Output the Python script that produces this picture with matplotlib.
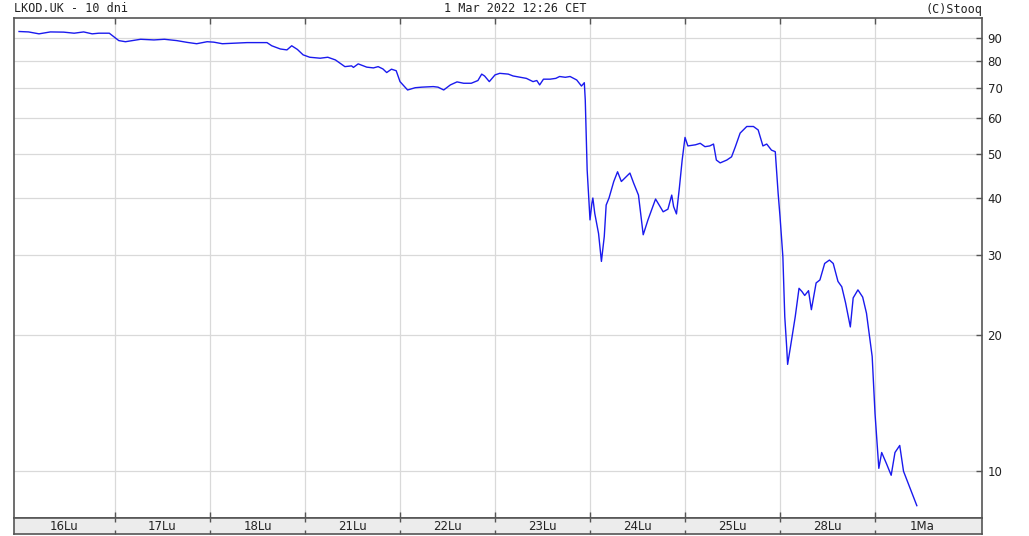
import matplotlib
matplotlib.use("Agg")
import matplotlib.pyplot as plt
import numpy as np

# ---- data (time in trading days from start of 16 Feb session, price) ----
t = [-0.01, 0.09, 0.20, 0.32, 0.46, 0.57, 0.67, 0.76, 0.83, 0.94,
     1.04, 1.11, 1.27, 1.41, 1.52, 1.65, 1.76, 1.86, 1.97, 2.04,
     2.13, 2.39, 2.60, 2.65, 2.74, 2.81, 2.86, 2.92, 2.98, 3.05,
     3.16, 3.24, 3.32, 3.42, 3.49, 3.51, 3.56, 3.65, 3.72, 3.77,
     3.82, 3.86, 3.91, 3.96, 4.00, 4.08, 4.16, 4.23, 4.35, 4.40,
     4.46, 4.53, 4.60, 4.67, 4.75, 4.82, 4.86, 4.89, 4.94, 5.00,
     5.05, 5.14, 5.19, 5.33, 5.40, 5.44, 5.47, 5.51, 5.58, 5.64,
     5.68, 5.74, 5.79, 5.86, 5.91, 5.94, 5.95, 5.96, 5.97, 5.99,
     6.00, 6.02, 6.03, 6.05, 6.09, 6.12, 6.15, 6.17, 6.20, 6.25,
     6.29, 6.33, 6.42, 6.46, 6.51, 6.56, 6.61, 6.69, 6.77, 6.82,
     6.86, 6.88, 6.91, 6.94, 6.97, 7.00, 7.03, 7.11, 7.16, 7.21,
     7.26, 7.30, 7.33, 7.37, 7.44, 7.49, 7.53, 7.58, 7.65, 7.72,
     7.77, 7.82, 7.86, 7.91, 7.95, 7.98, 8.00, 8.03, 8.05, 8.07,
     8.08, 8.11, 8.16, 8.20, 8.23, 8.26, 8.30, 8.33, 8.38, 8.42,
     8.47, 8.52, 8.56, 8.61, 8.65, 8.69, 8.74, 8.77, 8.82, 8.87,
     8.91, 8.97, 8.98, 9.00, 9.02, 9.04, 9.07, 9.12, 9.17, 9.21,
     9.26, 9.30, 9.35, 9.44]
price = [93.1, 92.9, 92.0, 92.9, 92.8, 92.3, 92.9, 92.0, 92.3, 92.3,
         88.9, 88.4, 89.5, 89.2, 89.5, 88.9, 88.1, 87.5, 88.4, 88.2,
         87.5, 88.0, 88.0, 86.6, 85.2, 84.8, 86.6, 85.0, 82.7, 81.7,
         81.3, 81.7, 80.6, 77.9, 78.2, 77.6, 79.0, 77.7, 77.4, 77.9,
         77.0, 75.6, 76.9, 76.3, 72.2, 69.2, 70.0, 70.2, 70.4, 70.2,
         69.2, 71.0, 72.1, 71.6, 71.6, 72.6, 75.0, 74.3, 72.2, 74.7,
         75.3, 75.0, 74.3, 73.4, 72.2, 72.6, 71.0, 73.1, 73.1, 73.4,
         74.1, 73.8, 74.1, 72.8, 70.6, 71.8, 65.8, 55.6, 46.1, 39.0,
         35.8, 39.0, 40.0, 37.0, 33.4, 29.0, 32.9, 38.6, 40.0, 43.5,
         45.7, 43.5, 45.4, 43.1, 40.6, 33.2, 35.8, 39.8, 37.3, 37.8,
         40.6, 38.3, 36.9, 42.0, 48.5, 54.4, 52.1, 52.4, 52.8, 51.9,
         52.1, 52.6, 48.5, 47.8, 48.5, 49.3, 51.9, 55.6, 57.5, 57.5,
         56.5, 52.1, 52.6, 51.0, 50.6, 41.0, 36.4, 29.7, 21.9, 18.8,
         17.2, 18.8, 21.9, 25.3, 24.9, 24.4, 25.0, 22.7, 26.0, 26.4,
         28.7, 29.2, 28.7, 26.2, 25.5, 23.5, 20.8, 24.1, 25.1, 24.2,
         22.3, 17.9, 16.2, 13.4, 11.7, 10.15, 11.0, 10.4, 9.8, 11.0,
         11.4, 10.0, 9.4, 8.4]
day_labels = ["16Lu", "17Lu", "18Lu", "21Lu", "22Lu", "23Lu", "24Lu", "25Lu", "28Lu", "1Ma"]
y_ticks = [10, 20, 30, 40, 50, 60, 70, 80, 90]

W, H = 1029, 536
fig = plt.figure(figsize=(W / 100, H / 100), dpi=100)
fig.patch.set_facecolor("white")

left_px, right_px, top_px, bot_px = 14, 982, 18, 518
ax = fig.add_axes([left_px / W, 1 - bot_px / H, (right_px - left_px) / W, (bot_px - top_px) / H])
ax.set_yscale("log")
xmin, xmax = -0.063, 10.126
ax.set_xlim(xmin, xmax)
ax.set_ylim(7.89, 99.7)

spine_c = "#555555"
for s in ax.spines.values():
    s.set_color(spine_c)
    s.set_linewidth(1.2)

# grid
bounds = list(range(1, len(day_labels)))
for b in bounds:
    ax.axvline(b, color="#d9d9d9", lw=0.9, zorder=0)
for v in y_ticks:
    ax.axhline(v, color="#d9d9d9", lw=0.9, zorder=0)

ax.plot(t, price, color="#1a1aee", lw=1.0, zorder=3)

ax.yaxis.tick_right()
ax.set_yticks(y_ticks)
ax.set_yticklabels([str(v) for v in y_ticks])
ax.yaxis.set_minor_locator(matplotlib.ticker.NullLocator())
ax.tick_params(axis="y", direction="in", length=4, width=1, color=spine_c,
               labelsize=8.5, labelcolor="#222222", pad=4)
ax.set_xticks(bounds)
ax.set_xticklabels([])
ax.tick_params(axis="x", direction="in", length=4, width=1, color=spine_c,
               top=True, bottom=True)

# header texts
fig.text(left_px / W, 1 - 9 / H, "LKOD.UK - 10 dni", ha="left", va="center",
         fontsize=8.5, family="DejaVu Sans Mono", color="#222222")
fig.text(515 / W, 1 - 9 / H, "1 Mar 2022 12:26 CET", ha="center", va="center",
         fontsize=8.5, family="DejaVu Sans Mono", color="#222222")
fig.text(right_px / W, 1 - 9 / H, "(C)Stooq", ha="right", va="center",
         fontsize=8.5, family="DejaVu Sans Mono", color="#222222")

# label band
band = fig.add_axes([left_px / W, 1 - 534 / H, (right_px - left_px) / W, 16 / H])
band.set_xlim(xmin, xmax)
band.set_ylim(0, 1)
band.set_facecolor("#ececec")
for s in band.spines.values():
    s.set_color(spine_c)
    s.set_linewidth(1.2)
band.set_yticks([])
band.set_xticks(bounds)
band.set_xticklabels([])
band.tick_params(axis="x", direction="in", length=3, width=1, color=spine_c,
                 top=True, bottom=True)
edges = [xmin + 0.0] + bounds + [len(day_labels)]
for i, lab in enumerate(day_labels):
    c = (edges[i] + edges[i + 1]) / 2
    band.text(c, 0.45, lab, ha="center", va="center", fontsize=8.5, color="#222222")

fig.savefig("out.png", dpi=100, facecolor="white")
